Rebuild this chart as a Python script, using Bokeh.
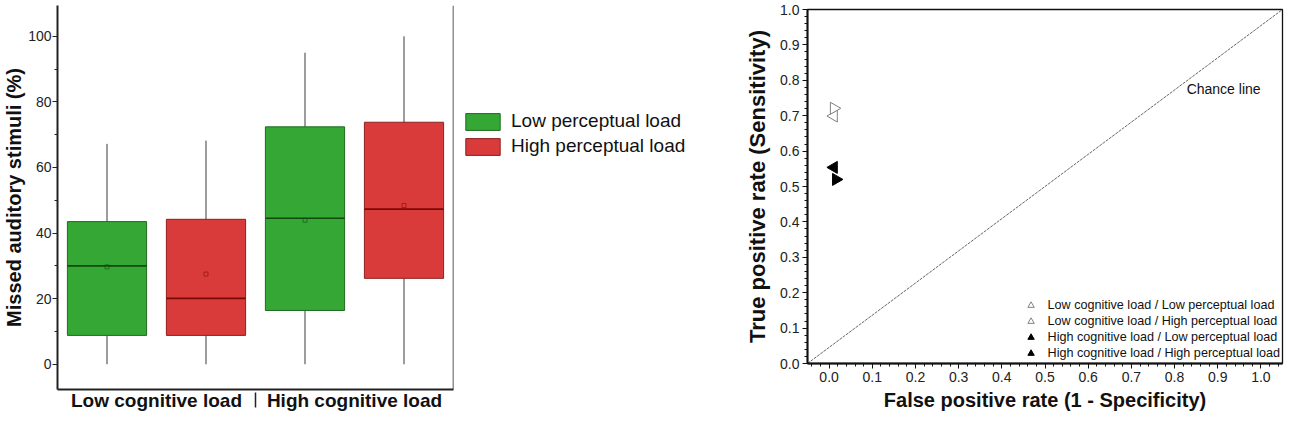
from bokeh.plotting import figure
from bokeh.models import (FactorRange, Range1d, Legend, LegendItem, NumeralTickFormatter,
                          FixedTicker, SingleIntervalTicker, Label, Span)
from bokeh.layouts import row, column
from bokeh.embed import file_html
from bokeh.resources import INLINE

FONT = "Liberation Sans"

# ---------------- left panel data (box plot) ----------------
cognitive = ["Low cognitive load", "Low cognitive load", "High cognitive load", "High cognitive load"]
perceptual = ["Low perceptual load", "High perceptual load", "Low perceptual load", "High perceptual load"]
q1 = [8.8, 8.8, 16.4, 26.2]
q3 = [43.5, 44.2, 72.4, 73.8]
median = [30.0, 20.1, 44.5, 47.3]
mean = [29.7, 27.5, 43.9, 48.4]
whisker_lo = [0.0, 0.0, 0.0, 0.0]
whisker_hi = [67.2, 68.2, 95.0, 100.0]
y_ticks = [0, 20, 40, 60, 80, 100]
y_minor = [10, 30, 50, 70, 90]
loads = ["Low perceptual load", "High perceptual load"]

# ---------------- right panel data (ROC space) ----------------
conditions = ["Low cognitive load / Low perceptual load",
              "Low cognitive load / High perceptual load",
              "High cognitive load / Low perceptual load",
              "High cognitive load / High perceptual load"]
fpr = [0.011, 0.011, 0.011, 0.016]
tpr = [0.699, 0.721, 0.554, 0.520]
chance_x = [-0.05, 1.05]
chance_y = [0.0, 1.0]

# styles
fill = {"Low perceptual load": "#34A734", "High perceptual load": "#D93A3A"}
edge = {"Low perceptual load": "#1F6B1F", "High perceptual load": "#8E2020"}
med_col = {"Low perceptual load": "#0F4A0F", "High perceptual load": "#7A0A0A"}
marker_angle = [1.5708, -1.5708, 1.5708, -1.5708]
marker_fill = ["white", "white", "black", "black"]
marker_line = ["#808080", "#808080", "black", "black"]


def no_frame_align(fig):
    if hasattr(fig, "frame_align"):
        fig.frame_align = False


# ================= LEFT FIGURE =================
factors = list(zip(cognitive, perceptual))
xr = FactorRange(factors=factors, factor_padding=0, group_padding=0,
                 subgroup_padding=0, range_padding=0)
p1 = figure(width=460, height=413, x_range=xr, y_range=Range1d(-7.7, 109.4),
            output_backend="svg", toolbar_location=None,
            min_border_left=53, min_border_right=7, min_border_top=5, min_border_bottom=22)
no_frame_align(p1)
p1.grid.visible = False
p1.outline_line_color = None

p1.segment(x0=factors, y0=whisker_lo, x1=factors, y1=whisker_hi,
           line_color="#3a3a3a", line_width=1)

for load in loads:
    idx = [i for i, pl_ in enumerate(perceptual) if pl_ == load]
    xs = [factors[i] for i in idx]
    p1.vbar(x=xs, bottom=[q1[i] for i in idx], top=[q3[i] for i in idx],
            width=0.8, fill_color=fill[load], line_color=edge[load], line_width=1)
    p1.vbar(x=xs, bottom=[median[i] for i in idx], top=[median[i] for i in idx], width=0.8,
            fill_color=None, line_color=med_col[load], line_width=1.6)
    p1.scatter(x=xs, y=[mean[i] for i in idx], marker="square", size=4,
               fill_color=None, line_color=med_col[load], line_width=0.8, line_alpha=0.7)

p1.add_layout(Span(location=len(factors), dimension="height", line_color="#222222",
                   line_width=1.5))

ya = p1.yaxis[0]
ya.ticker = FixedTicker(ticks=y_ticks, minor_ticks=y_minor)
ya.axis_label = "Missed auditory stimuli (%)"
ya.axis_label_text_font = FONT
ya.axis_label_text_font_style = "bold"
ya.axis_label_text_font_size = "20px"
ya.axis_label_text_color = "#111111"
ya.axis_label_standoff = 0
ya.major_label_text_font = FONT
ya.major_label_text_font_size = "14px"
ya.major_label_text_color = "#222222"
ya.major_label_standoff = 1
ya.major_tick_in = 0
ya.major_tick_out = 5
ya.minor_tick_in = 0
ya.minor_tick_out = 3
ya.axis_line_width = 2
ya.axis_line_color = "#222222"
ya.major_tick_line_color = "#222222"
ya.minor_tick_line_color = "#222222"

xa = p1.xaxis[0]
xa.major_label_text_font_size = "1px"
xa.major_label_text_color = None
xa.major_label_standoff = 0
xa.major_tick_line_color = None
xa.major_tick_out = 0
xa.major_tick_in = 0
xa.minor_tick_line_color = None
xa.group_text_font = FONT
xa.group_text_font_size = "19px"
xa.group_text_font_style = "bold"
xa.group_text_color = "#111111"
xa.separator_line_color = "#222222"
xa.separator_line_width = 1.5
xa.axis_line_width = 2
xa.axis_line_color = "#222222"

# ================= LEGEND FIGURE (for the box plot) =================
pl = figure(width=260, height=413, x_range=FactorRange(factors=factors),
            y_range=Range1d(-7.7, 109.4), output_backend="svg", toolbar_location=None,
            min_border_left=0, min_border_right=0, min_border_top=0, min_border_bottom=0)
no_frame_align(pl)
pl.axis.visible = False
pl.grid.visible = False
pl.outline_line_color = None
leg_items = []
for load in loads:
    idx = [i for i, p_ in enumerate(perceptual) if p_ == load]
    r = pl.vbar(x=[factors[i] for i in idx], bottom=[q1[i] for i in idx],
                top=[q3[i] for i in idx], width=0.8, fill_color=fill[load],
                line_color=edge[load], line_width=1, visible=False)
    leg_items.append(LegendItem(label=load, renderers=[r]))
leg1 = Legend(items=leg_items, location=(1, 256), orientation="vertical",
              glyph_width=43, glyph_height=21, label_height=21, spacing=3,
              label_standoff=7, padding=0, margin=0, inactive_fill_alpha=0,
              label_text_font=FONT, label_text_font_size="19px", label_text_color="#111111",
              border_line_color=None, background_fill_alpha=0)
pl.add_layout(leg1)

# ================= RIGHT FIGURE =================
p2 = figure(width=564, height=413, x_range=Range1d(chance_x[0], chance_x[1]),
            y_range=Range1d(0, 1), output_backend="svg", toolbar_location=None,
            min_border_left=87, min_border_right=2, min_border_top=9, min_border_bottom=47)
no_frame_align(p2)
p2.grid.visible = False
p2.outline_line_color = "#111111"
p2.outline_line_width = 1.3

p2.line(x=chance_x, y=chance_y, line_color="#666666", line_width=1, line_dash="3 1")
p2.add_layout(Label(x=0.828, y=0.776, text="Chance line", text_font=FONT,
                    text_font_size="14px", text_baseline="middle", text_color="#111111"))

items2 = []
for i, c in enumerate(conditions):
    r = p2.scatter(x=[fpr[i]], y=[tpr[i]], marker="triangle", size=12, angle=marker_angle[i],
                   fill_color=marker_fill[i], line_color=marker_line[i], line_width=1)
    items2.append(LegendItem(label=c, renderers=[r]))

for ax in (p2.xaxis[0], p2.yaxis[0]):
    ax.ticker = SingleIntervalTicker(interval=0.1, num_minor_ticks=5)
    ax.formatter = NumeralTickFormatter(format="0.0")
    ax.major_label_text_font = FONT
    ax.major_label_text_font_size = "14px"
    ax.major_label_text_color = "#222222"
    ax.major_label_standoff = 3
    ax.major_tick_in = 0
    ax.major_tick_out = 5
    ax.minor_tick_in = 0
    ax.minor_tick_out = 3
    ax.axis_line_width = 2
    ax.axis_line_color = "#111111"
    ax.major_tick_line_color = "#111111"
    ax.minor_tick_line_color = "#111111"
    ax.axis_label_text_font = FONT
    ax.axis_label_text_font_style = "bold"
    ax.axis_label_text_color = "#111111"
    ax.axis_label_standoff = 4

p2.xaxis[0].axis_label = "False positive rate (1 - Specificity)"
p2.xaxis[0].axis_label_text_font_size = "20px"
p2.yaxis[0].axis_label = "True positive rate (Sensitivity)"
p2.yaxis[0].axis_label_text_font_size = "22px"
p2.yaxis[0].axis_label_standoff = 7

leg2 = Legend(items=items2, location="bottom_right", margin=2, padding=0,
              glyph_width=18, glyph_height=16, label_height=16, spacing=0,
              label_standoff=8, label_text_font=FONT, label_text_font_size="12.6px",
              label_text_color="#111111", border_line_color=None, background_fill_alpha=0)
p2.add_layout(leg2)

layout = row(column(p1), column(pl), column(p2))
open("out.html", "w").write(file_html(layout, INLINE))
